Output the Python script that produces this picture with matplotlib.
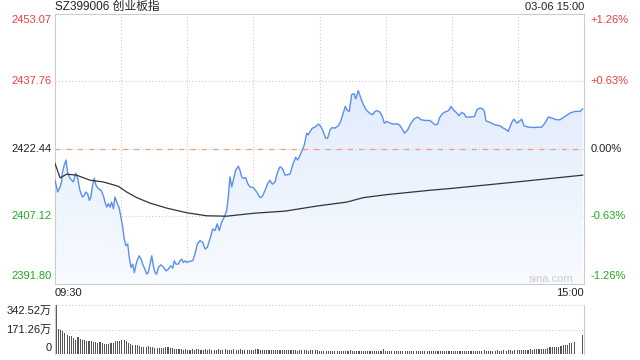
import numpy as np
import matplotlib.pyplot as plt
from matplotlib.colors import LinearSegmentedColormap
from matplotlib.patches import Polygon

plt.rcParams['font.family'] = ['Liberation Sans', 'Noto Sans CJK SC']

# minutes after 09:30 (lunch break removed) and index level
minutes = [0, 1.2, 2.3, 3.0, 3.3, 4.2, 5.0, 5.8, 6.8, 8.3,
           9.4, 10.3, 11.3, 12.4, 13.3, 13.9, 14.8, 15.6, 16.3, 16.9,
           17.8, 18.6, 19.6, 20.9, 21.9, 22.7, 23.5, 24.2, 25.0, 25.7,
           26.5, 27.2, 28.3, 29.0, 29.8, 30.7, 31.4, 32.2, 33.0, 33.7,
           34.5, 35.3, 36.0, 36.8, 37.5, 38.2, 39.0, 40.1, 40.8, 41.6,
           42.3, 43.1, 43.9, 44.6, 45.4, 46.1, 46.9, 48.0, 49.1, 50.4,
           51.4, 52.5, 53.4, 54.1, 54.9, 55.9, 56.7, 57.5, 58.2, 59.0,
           59.8, 60.9, 62.5, 63.5, 64.6, 65.8, 67.0, 68.1, 69.1, 70.3,
           71.6, 72.6, 73.6, 74.5, 75.6, 76.4, 77.1, 77.9, 78.6, 79.4,
           80.2, 80.9, 82.0, 83.2, 83.9, 84.7, 85.4, 86.5, 87.4, 88.5,
           90.0, 91.5, 93.0, 94.1, 95.3, 96.5, 97.5, 98.6, 99.8, 101.0,
           102.1, 103.1, 104.4, 105.9, 106.6, 107.4, 108.1, 109.2, 110.1, 111.2,
           112.2, 113.1, 114.2, 114.9, 115.7, 116.8, 118.0, 119.5, 120.6, 121.7,
           122.8, 123.7, 124.8, 125.8, 127.0, 128.5, 129.6, 130.8, 131.7, 132.6,
           133.5, 134.6, 135.7, 136.4, 137.6, 138.7, 139.9, 141.1, 142.6, 144.1,
           145.2, 146.4, 147.5, 148.5, 149.4, 150.5, 152.0, 153.5, 155.0, 156.2,
           157.3, 158.5, 160.0, 161.5, 163.0, 164.6, 166.1, 167.9, 170.1, 171.2,
           172.4, 173.6, 174.4, 175.7, 176.9, 178.5, 179.7, 180.7, 182.3, 183.3,
           184.5, 185.6, 186.5, 188.3, 190.3, 191.5, 192.9, 194.1, 194.8, 195.5,
           197.4, 199.6, 201.9, 203.4, 204.9, 205.6, 207.2, 208.2, 209.5, 210.7,
           211.7, 212.8, 214.7, 217.0, 220.8, 222.3, 223.8, 225.4, 227.6, 229.1,
           231.4, 233.7, 235.9, 238.2, 239.4]
price = [2415.35, 2412.68, 2413.82, 2414.96, 2416.95, 2418.78, 2419.93, 2416.95, 2415.81, 2414.96,
         2416.95, 2415.81, 2413.07, 2411.54, 2411.92, 2412.68, 2412.31, 2410.78, 2411.54, 2413.82,
         2415.81, 2414.21, 2413.46, 2413.07, 2411.92, 2410.39, 2409.25, 2410.03, 2409.25, 2410.39,
         2408.88, 2411.54, 2410.03, 2409.25, 2407.35, 2404.68, 2402.03, 2400.49, 2400.88, 2397.82,
         2395.53, 2396.31, 2394.39, 2396.31, 2397.45, 2398.21, 2397.45, 2395.92, 2395.17, 2394.03,
         2394.39, 2396.31, 2398.21, 2395.92, 2394.39, 2394.03, 2395.53, 2396.15, 2395.69, 2394.78,
         2395.17, 2395.92, 2395.40, 2397.07, 2396.31, 2396.31, 2397.07, 2397.45, 2396.68, 2397.07,
         2396.68, 2396.91, 2397.07, 2398.60, 2400.88, 2401.64, 2401.25, 2399.74, 2400.11, 2402.03,
         2404.31, 2403.92, 2405.46, 2403.92, 2405.82, 2406.60, 2407.35, 2408.50, 2411.54, 2416.11,
         2413.82, 2415.35, 2417.64, 2418.55, 2417.64, 2416.11, 2415.74, 2415.97, 2414.60, 2413.82,
         2413.68, 2412.68, 2411.40, 2411.70, 2413.07, 2414.60, 2415.35, 2414.44, 2414.96, 2417.25,
         2418.39, 2418.03, 2416.50, 2416.66, 2416.73, 2418.03, 2419.17, 2420.54, 2419.93, 2421.07,
         2422.21, 2423.35, 2426.03, 2425.64, 2426.39, 2427.17, 2427.42, 2428.09, 2427.54, 2426.39,
         2424.89, 2424.89, 2426.78, 2427.31, 2427.17, 2427.70, 2428.68, 2430.60, 2432.11, 2431.20,
         2430.97, 2434.78, 2435.01, 2433.80, 2435.70, 2434.03, 2432.50, 2431.36, 2430.60, 2430.21,
         2430.97, 2431.13, 2430.74, 2429.82, 2428.31, 2428.68, 2428.31, 2428.09, 2428.16, 2427.93,
         2427.17, 2426.03, 2426.78, 2428.31, 2429.30, 2429.69, 2429.07, 2428.91, 2428.91, 2428.45,
         2427.93, 2428.09, 2429.46, 2430.44, 2430.83, 2431.13, 2432.11, 2431.36, 2430.60, 2429.98,
         2430.74, 2430.44, 2429.69, 2429.69, 2429.82, 2431.42, 2431.74, 2431.52, 2430.97, 2428.84,
         2428.45, 2427.93, 2427.70, 2427.17, 2426.78, 2426.39, 2428.45, 2429.23, 2428.31, 2428.68,
         2429.23, 2427.70, 2427.40, 2427.31, 2427.40, 2428.31, 2429.69, 2429.46, 2429.07, 2429.07,
         2429.82, 2430.60, 2430.97, 2430.97, 2431.52]

avg_min = [0, 2.3, 5.3, 9.8, 15.9, 21.9, 28.7, 32.5, 37.1, 43.1, 50.7, 59.8,
           68.8, 77.9, 90.7, 104.4, 118.7, 132.4, 139.9, 150.5, 170.1, 179.2, 209.5, 239.4]
avg_price = [2419.17, 2415.88, 2416.72, 2416.50, 2415.35, 2414.96, 2413.98, 2412.68,
             2411.40, 2410.16, 2409.02, 2407.97, 2407.28, 2407.19, 2407.88, 2408.34,
             2409.48, 2410.39, 2411.40, 2412.08, 2413.07, 2413.46, 2414.96, 2416.50]

# volume per minute, in 万
volume = [342.5, 172, 166, 158, 148, 130, 128, 128, 112, 100,
          116, 102, 96, 95, 92, 92, 90, 84, 82, 80,
          84, 76, 72, 70, 70, 74, 80, 88, 94, 88,
          98, 96, 90, 80, 72, 66, 60, 62, 56, 52,
          52, 50, 54, 48, 46, 45, 45, 42, 44, 40,
          50, 46, 44, 40, 38, 34, 32, 33, 30, 33,
          31, 30, 34, 30, 33, 35, 31, 29, 32, 30,
          33, 31, 28, 30, 33, 31, 28, 32, 30, 29,
          31, 35, 30, 29, 32, 30, 28, 31, 30, 28,
          30, 32, 38, 31, 29, 30, 28, 30, 27, 26,
          29, 27, 30, 28, 26, 30, 27, 25, 28, 26,
          24, 27, 25, 28, 26, 24, 27, 25, 28, 30,
          20, 22, 20, 19, 23, 20, 21, 24, 22, 20,
          22, 20, 19, 21, 25, 20, 22, 19, 21, 20,
          22, 20, 19, 21, 20, 22, 19, 20, 21, 35,
          20, 19, 21, 22, 20, 19, 21, 20, 22, 19,
          20, 21, 19, 22, 20, 21, 19, 20, 22, 21,
          19, 20, 22, 21, 19, 20, 22, 19, 20, 22,
          20, 21, 19, 22, 20, 24, 21, 20, 19, 22,
          20, 22, 19, 21, 20, 30, 23, 22, 24, 23,
          24, 25, 24, 23, 25, 24, 26, 25, 24, 26,
          26, 28, 27, 30, 28, 30, 32, 31, 33, 34,
          34, 36, 38, 37, 40, 46, 47, 46, 48, 52,
          56, 60, 63, 66, 75, 80, 87, 3, 3, 2, 134]

y_ticks = [2453.07, 2437.76, 2422.44, 2407.12, 2391.80]
pct_labels = ['+1.26%', '+0.63%', '0.00%', '-0.63%', '-1.26%']
vol_ticks = [342.52, 171.26, 0]
vol_labels = ['342.52万', '171.26万', '0']

red = '#f03c3c'
green = '#1eaa1e'
grid_c = '#cccccc'
tick_colors = [red, red, '#222222', green, green]

fig = plt.figure(figsize=(6.4, 3.6), dpi=100)
ax = fig.add_axes([55/640, 76/360, 529/640, 270/360])
axv = fig.add_axes([55/640, 6/360, 529/640, 49/360])

ymin, ymax = y_ticks[-1], y_ticks[0]

# gradient fill under the price line
verts = list(zip(minutes, price)) + [(minutes[-1], ymin), (minutes[0], ymin)]
patch = Polygon(verts, closed=True, facecolor='none', edgecolor='none')
ax.add_patch(patch)
cmap = LinearSegmentedColormap.from_list('g', ['#f8fbff', '#d9e6fb'])
grad = np.linspace(0, 1, 256).reshape(-1, 1)
im = ax.imshow(grad, aspect='auto', cmap=cmap, origin='lower',
               extent=[0, 240, ymin, ymax], zorder=1)
im.set_clip_path(patch)

for m in range(30, 240, 30):
    ax.axvline(m, color=grid_c, ls=(0, (1, 2)), lw=0.8, zorder=0)
for v in [y_ticks[1], y_ticks[3]]:
    ax.axhline(v, color=grid_c, ls=(0, (1, 2)), lw=0.8, zorder=0)
ax.axhline(y_ticks[2], color=grid_c, ls=(0, (1, 2)), lw=0.8, zorder=2)
ax.axhline(y_ticks[2], color='#f0a070', ls=(0, (4, 5)), lw=0.9, zorder=2)

ax.plot(minutes, price, color='#5b8ef2', lw=1.0, zorder=3)
ax.plot(avg_min, avg_price, color='#333333', lw=0.9, zorder=3)

ax.set_xlim(0, 240)
ax.set_ylim(ymin, ymax)
ax.set_xticks([])
ax.set_yticks([])
for s in ax.spines.values():
    s.set_color(grid_c)
    s.set_linewidth(0.8)

trans = ax.get_yaxis_transform()
vas = ['top', 'center', 'center', 'center', 'bottom']
for v, lab, pc, c, va in zip(y_ticks, [f'{t:.2f}' for t in y_ticks], pct_labels, tick_colors, vas):
    off = {'top': -0.3, 'center': 0, 'bottom': 0.6}[va]
    ax.text(-0.006, v + off, lab, transform=trans, ha='right', va=va, fontsize=8, color=c)
    ax.text(1.012, v + off, pc, transform=trans, ha='left', va=va, fontsize=8, color=c)

ax.text(0, 1.027, 'SZ399006 创业板指', transform=ax.transAxes, ha='left', va='center',
        fontsize=8.5, color='#222222')
ax.text(1, 1.027, '03-06 15:00', transform=ax.transAxes, ha='right', va='center',
        fontsize=8, color='#222222')
ax.text(0, -0.035, '09:30', transform=ax.transAxes, ha='left', va='center', fontsize=8, color='#222222')
ax.text(1, -0.035, '15:00', transform=ax.transAxes, ha='right', va='center', fontsize=8, color='#222222')
ax.text(0.98, 0.02, 'sina.com', transform=ax.transAxes, ha='right', va='center',
        fontsize=8, color='#cccccc', zorder=4)

# volume panel
axv.bar(range(len(volume)), volume, width=0.5, color='#555555')
axv.set_xlim(-0.5, 240.5)
axv.set_ylim(0, vol_ticks[0])
for v in vol_ticks[:2]:
    axv.axhline(v, color=grid_c, ls=(0, (1, 2)), lw=0.8, clip_on=False, zorder=0)
axv.set_xticks([])
axv.set_yticks([])
for k in ['top', 'bottom']:
    axv.spines[k].set_visible(False)
for k in ['left', 'right']:
    axv.spines[k].set_color(grid_c)
    axv.spines[k].set_linewidth(0.8)
vtrans = axv.get_yaxis_transform()
px = vol_ticks[0] / 49  # value per pixel
label_shift = [-6 * px, 0, 6 * px]
for v, lab, sh in zip(vol_ticks, vol_labels, label_shift):
    axv.text(-0.006, v + sh, lab, transform=vtrans, ha='right', va='center',
             fontsize=8, color='#222222')

fig.savefig('out.png', dpi=100)
